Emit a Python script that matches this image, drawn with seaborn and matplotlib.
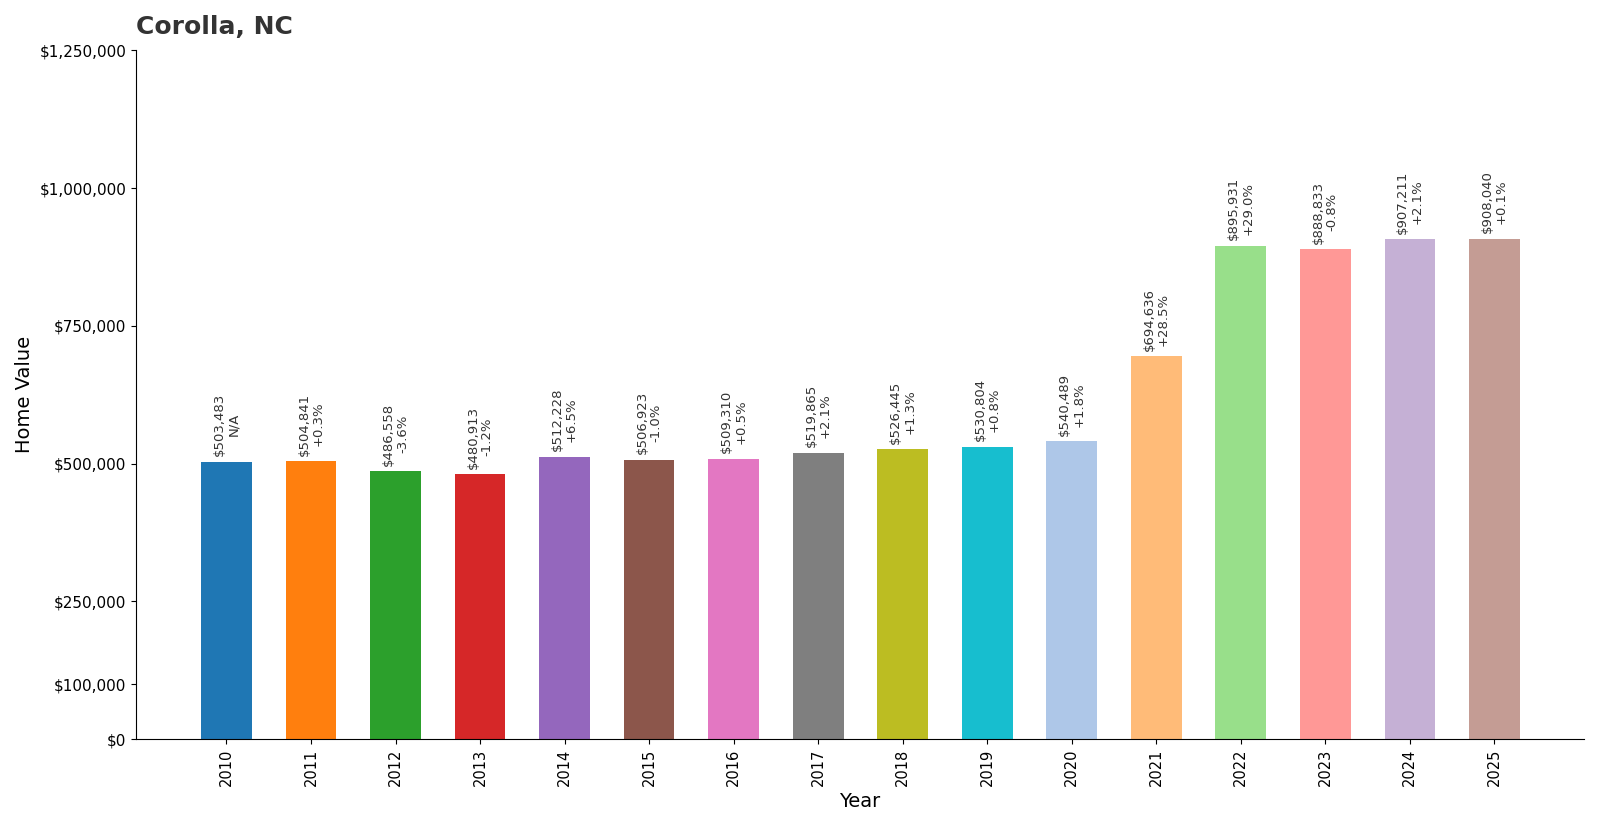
import matplotlib
matplotlib.use('Agg')
import matplotlib.pyplot as plt
import seaborn as sns
import pandas as pd

years = [str(y) for y in range(2010, 2026)]
values = [503483, 504841, 486558, 480913, 512228, 506923, 509310, 519865,
          526445, 530804, 540489, 694636, 895931, 888833, 907211, 908040]
changes = ['N/A', '+0.3%', '-3.6%', '-1.2%', '+6.5%', '-1.0%', '+0.5%', '+2.1%',
           '+1.3%', '+0.8%', '+1.8%', '+28.5%', '+29.0%', '-0.8%', '+2.1%', '+0.1%']
colors = ['#1f77b4', '#ff7f0e', '#2ca02c', '#d62728', '#9467bd', '#8c564b',
          '#e377c2', '#7f7f7f', '#bcbd22', '#17becf', '#aec7e8', '#ffbb78',
          '#98df8a', '#ff9896', '#c5b0d5', '#c49c94']
yticks = [0, 100000, 250000, 500000, 750000, 1000000, 1250000]

df = pd.DataFrame({'Year': years, 'Value': values})

fig, ax = plt.subplots(figsize=(16, 8.4), dpi=100)
sns.barplot(data=df, x='Year', y='Value', hue='Year', palette=colors,
            width=0.6, legend=False, ax=ax, saturation=1)

for i, (v, c) in enumerate(zip(values, changes)):
    ax.text(i, v + 10000, f'${v:,}\n{c}', rotation=90, ha='center', va='bottom',
            fontsize=9.5, color='#333333', linespacing=1.1)

ax.set_ylim(0, 1250000)
ax.set_xlim(-1.07, 16.06)
ax.set_yticks(yticks)
ax.set_yticklabels([f'${t:,}' for t in yticks], fontsize=11)
ax.tick_params(axis='x', rotation=90, labelsize=10.5)
ax.set_xlabel('Year', fontsize=14)
ax.set_ylabel('Home Value', fontsize=14)
ax.set_title('Corolla, NC', loc='left', fontsize=18, fontweight='bold',
             color='#333333', pad=12)
ax.spines['top'].set_visible(False)
ax.spines['right'].set_visible(False)

plt.subplots_adjust(left=0.085, right=0.99, top=0.94, bottom=0.12)
plt.savefig('out.png', dpi=100)
